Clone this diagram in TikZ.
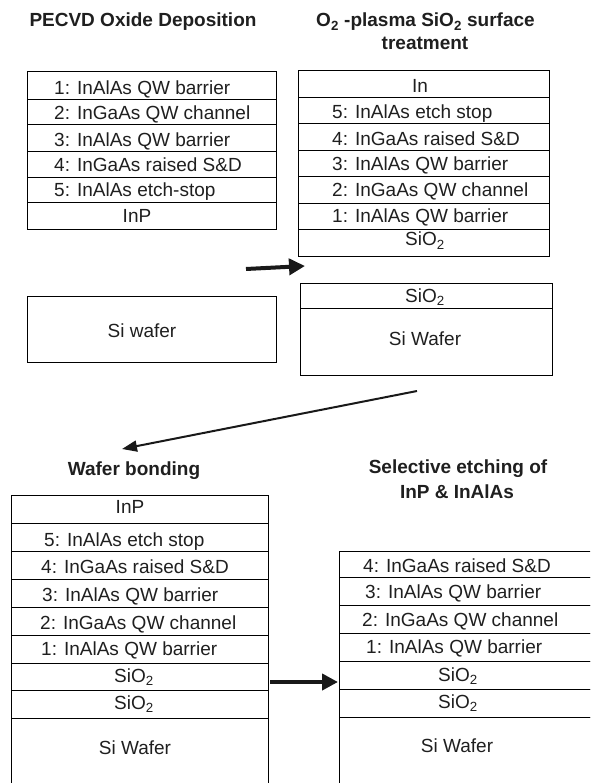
\documentclass[tikz,border=0pt]{standalone}
\usepackage{fontspec}
\setmainfont{Liberation Sans}
\usetikzlibrary{arrows.meta}
\begin{document}
\begin{tikzpicture}[x=1pt,y=-1pt,
  layer/.style={draw=black, line width=1.3pt, inner sep=0pt, anchor=north west},
  txt/.style={inner sep=0pt, anchor=base west, font=\fontsize{19}{23}\selectfont, text=black!88},
  ctxt/.style={inner sep=0pt, anchor=base, font=\fontsize{19}{23}\selectfont, text=black!88},
  ttl/.style={inner sep=0pt, anchor=base, font=\bfseries\fontsize{19}{23}\selectfont, text=black!88},
  flow/.style={-{Triangle[length=16pt,width=16pt]}, line width=4pt, black!90},
  flowthin/.style={-{Triangle[length=15pt,width=11pt]}, line width=2pt, black!90},
]
\useasboundingbox (0,0) rectangle (590,783);
\clip (0,0) rectangle (590,783);

% ---------- Titles ----------
\node[ttl] (t1) at (143,27) {PECVD Oxide Deposition};
\node[ttl] (t2a) at (425.5,27) {O\textsubscript{2} -plasma SiO\textsubscript{2} surface};
\node[ttl] (t2b) at (425,50) {treatment};
\node[ttl] (t3) at (134,475) {Wafer bonding};
\node[ttl] (t4a) at (458,473) {Selective etching of};
\node[ttl] (t4b) at (457,498) {InP \& InAlAs};

% ---------- Panel 1 (top left) ----------
\node[layer, minimum width=249pt, minimum height=28pt] (p1r1) at (27,71) {};
\node[layer, minimum width=249pt, minimum height=25pt] (p1r2) at (27,99) {};
\node[layer, minimum width=249pt, minimum height=27pt] (p1r3) at (27,124) {};
\node[layer, minimum width=249pt, minimum height=26pt] (p1r4) at (27,151) {};
\node[layer, minimum width=249pt, minimum height=25pt] (p1r5) at (27,177) {};
\node[layer, minimum width=249pt, minimum height=27pt] (p1r6) at (27,202) {};
\node[txt] (p1t1) at (54,95) {1: InAlAs QW barrier};
\node[txt] (p1t2) at (54,120) {2: InGaAs QW channel};
\node[txt] (p1t3) at (54,147) {3: InAlAs QW barrier};
\node[txt] (p1t4) at (54,172) {4: InGaAs raised S\&D};
\node[txt] (p1t5) at (54,197) {5: InAlAs etch-stop};
\node[ctxt] (p1t6) at (137,223) {InP};

\node[layer, minimum width=249pt, minimum height=66pt] (p1si) at (27,296) {};
\node[ctxt] (p1tsi) at (142,337) {Si wafer};

% ---------- Panel 2 (top right) ----------
\node[layer, minimum width=251pt, minimum height=27pt] (p2r1) at (298,70) {};
\node[layer, minimum width=251pt, minimum height=26pt] (p2r2) at (298,97) {};
\node[layer, minimum width=251pt, minimum height=27pt] (p2r3) at (298,123) {};
\node[layer, minimum width=251pt, minimum height=26pt] (p2r4) at (298,150) {};
\node[layer, minimum width=251pt, minimum height=27pt] (p2r5) at (298,176) {};
\node[layer, minimum width=251pt, minimum height=26pt] (p2r6) at (298,203) {};
\node[layer, minimum width=251pt, minimum height=27pt] (p2r7) at (298,229) {};
\node[ctxt] (p2t1) at (420,93) {In};
\node[txt] (p2t2) at (332,119) {5: InAlAs etch stop};
\node[txt] (p2t3) at (332,146) {4: InGaAs raised S\&D};
\node[txt] (p2t4) at (332,171) {3: InAlAs QW barrier};
\node[txt] (p2t5) at (332,197) {2: InGaAs QW channel};
\node[txt] (p2t6) at (332,223) {1: InAlAs QW barrier};
\node[ctxt] (p2t7) at (425,246) {SiO\textsubscript{2}};

\node[layer, minimum width=252pt, minimum height=25pt] (p2ox) at (300,283) {};
\node[layer, minimum width=252pt, minimum height=67pt] (p2si) at (300,308) {};
\node[ctxt] (p2tox) at (425,302) {SiO\textsubscript{2}};
\node[ctxt] (p2tsi) at (425,345) {Si Wafer};

% ---------- Panel 3 (bottom left) ----------
\node[layer, minimum width=257pt, minimum height=28pt] (p3r1) at (11,495) {};
\node[layer, minimum width=257pt, minimum height=28pt] (p3r2) at (11,523) {};
\node[layer, minimum width=257pt, minimum height=28pt] (p3r3) at (11,551) {};
\node[layer, minimum width=257pt, minimum height=28pt] (p3r4) at (11,579) {};
\node[layer, minimum width=257pt, minimum height=28pt] (p3r5) at (11,607) {};
\node[layer, minimum width=257pt, minimum height=28pt] (p3r6) at (11,635) {};
\node[layer, minimum width=257pt, minimum height=27pt] (p3r7) at (11,663) {};
\node[layer, minimum width=257pt, minimum height=28pt] (p3r8) at (11,690) {};
\node[layer, minimum width=257pt, minimum height=90pt] (p3r9) at (11,718) {};
\node[ctxt] (p3t1) at (130,513) {InP};
\node[txt] (p3t2) at (44,546) {5: InAlAs etch stop};
\node[txt] (p3t3) at (41,573) {4: InGaAs raised S\&D};
\node[txt] (p3t4) at (42,601) {3: InAlAs QW barrier};
\node[txt] (p3t5) at (40,629) {2: InGaAs QW channel};
\node[txt] (p3t6) at (41,655) {1: InAlAs QW barrier};
\node[ctxt] (p3t7) at (134,682) {SiO\textsubscript{2}};
\node[ctxt] (p3t8) at (134,709) {SiO\textsubscript{2}};
\node[ctxt] (p3t9) at (135,754) {Si Wafer};

% ---------- Panel 4 (bottom right) ----------
\node[layer, minimum width=281pt, minimum height=26pt] (p4r1) at (339,551) {};
\node[layer, minimum width=281pt, minimum height=28pt] (p4r2) at (339,577) {};
\node[layer, minimum width=281pt, minimum height=28pt] (p4r3) at (339,605) {};
\node[layer, minimum width=281pt, minimum height=28pt] (p4r4) at (339,633) {};
\node[layer, minimum width=281pt, minimum height=28pt] (p4r5) at (339,661) {};
\node[layer, minimum width=281pt, minimum height=28pt] (p4r6) at (339,689) {};
\node[layer, minimum width=281pt, minimum height=90pt] (p4r7) at (339,717) {};
\node[txt] (p4t1) at (363,572) {4: InGaAs raised S\&D};
\node[txt] (p4t2) at (365,598) {3: InAlAs QW barrier};
\node[txt] (p4t3) at (362,626) {2: InGaAs QW channel};
\node[txt] (p4t4) at (366,653) {1: InAlAs QW barrier};
\node[ctxt] (p4t5) at (458,681) {SiO\textsubscript{2}};
\node[ctxt] (p4t6) at (458,708) {SiO\textsubscript{2}};
\node[ctxt] (p4t7) at (457,752) {Si Wafer};

% ---------- Arrows ----------
\coordinate (a1s) at (246,269);
\coordinate (a1e) at (305,266);
\coordinate (a2s) at (417,391);
\coordinate (a2e) at (122,449);
\coordinate (a3s) at (270,682);
\coordinate (a3e) at (338,682);
\draw[flow] (a1s) -- (a1e);
\draw[flowthin] (a2s) -- (a2e);
\draw[flow] (a3s) -- (a3e);
\end{tikzpicture}
\end{document}
